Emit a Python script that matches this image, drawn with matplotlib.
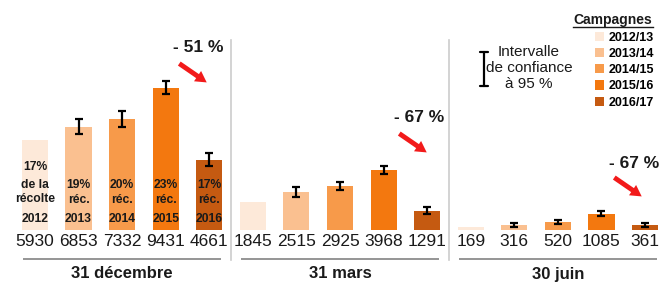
import numpy as np
import matplotlib
matplotlib.use("Agg")
from matplotlib import pyplot as plt
from matplotlib.patches import Patch

plt.rcParams['font.family'] = ['Liberation Sans', 'DejaVu Sans']

campaigns = ['2012/13', '2013/14', '2014/15', '2015/16', '2016/17']
dates = ['31 décembre', '31 mars', '30 juin']
stock_dec = [5930, 6853, 7332, 9431, 4661]
stock_mar = [1845, 2515, 2925, 3968, 1291]
stock_jun = [169, 316, 520, 1085, 361]
ci_dec = [0, 500, 530, 450, 440]
ci_mar = [0, 310, 280, 280, 230]
ci_jun = [0, 130, 130, 190, 130]
share = ['17%', '19%', '20%', '23%', '17%']
harvest = ['2012', '2013', '2014', '2015', '2016']
drops = ['- 51 %', '- 67 %', '- 67 %']
colors = ['#FDE9D9', '#FAC090', '#F79A4A', '#F3780F', '#C55A11']

W, H = 660, 284
txt = '#1a1a1a'


def fpos(x, y):
    # pixel position -> figure fraction
    return (x / W, 1 - y / H)


fig = plt.figure(figsize=(W / 100, H / 100), dpi=100)
ax = fig.add_axes([0, 0, 1, 1])
ax.set_axis_off()
ax.set_xlim(-0.803, 14.344)
ax.set_ylim(-(H - 230) / 0.0151, 230 / 0.0151)
xt = ax.get_xaxis_transform()

groups = [stock_dec, stock_mar, stock_jun]
cis = [ci_dec, ci_mar, ci_jun]
for g, (vals, ci) in enumerate(zip(groups, cis)):
    x = np.arange(5) + g * 5
    ax.bar(x, vals, width=0.6, color=colors, edgecolor='none')
    m = np.array(ci) > 0
    ax.errorbar(x[m], np.array(vals)[m], yerr=np.array(ci)[m], fmt='none',
                ecolor='black', elinewidth=1.6, capsize=2.6, capthick=1.6)
    for i, v in enumerate(vals):
        ax.text(x[i], 1 - 242 / H, str(v), transform=xt, ha='center',
                va='center', fontsize=12.5, color=txt)
    # group underline and label
    ax.plot([x[0] - 0.28, x[-1] + 0.28], [1 - 259 / H] * 2, transform=xt,
            color='#8c8c8c', lw=1.3, solid_capstyle='butt')
    ax.text(x[2], 1 - 274 / H, dates[g], transform=xt, ha='center',
            va='center', fontsize=12, fontweight='bold', color=txt)

# separators between dates
for sx in [4.5, 9.5]:
    ax.plot([sx, sx], [1 - 40 / H, 1 - 260 / H], transform=xt,
            color='#cccccc', lw=1.2)

# share of harvest inside December bars
for i in range(5):
    if i == 0:
        lines = [(share[i], 167), ('de la', 185), ('récolte', 199), (harvest[i], 219)]
    else:
        lines = [(share[i], 185), ('réc.', 200), (harvest[i], 219)]
    for s, yy in lines:
        ax.text(i, 1 - yy / H, s, transform=xt, ha='center', va='center',
                fontsize=8.7, fontweight='bold', color=txt)

# drop annotations
drop_pos = [(198, 47, 177, 62, 209, 84),
            (419, 118, 397, 132, 429, 154),
            (634, 164, 612, 176, 644, 198)]
for d, (tx, ty, ax0, ay0, ax1, ay1) in zip(drops, drop_pos):
    fig.text(*fpos(tx, ty), d, ha='center', va='center', fontsize=12.5,
             fontweight='bold', color=txt)
    ax.annotate('', xy=fpos(ax1, ay1), xytext=fpos(ax0, ay0),
                xycoords='figure fraction', textcoords='figure fraction',
                arrowprops=dict(arrowstyle='simple,head_width=0.9,head_length=0.8,tail_width=0.35',
                                color='#F21A1A', lw=0))

# confidence interval key
ax.annotate('', xy=fpos(484, 52), xytext=fpos(484, 86),
            xycoords='figure fraction', textcoords='figure fraction',
            arrowprops=dict(arrowstyle='|-|,widthA=0.3,widthB=0.3',
                            color='black', lw=1.6, shrinkA=0, shrinkB=0))
for s, yy in [('Intervalle', 52), ('de confiance', 68), ('à 95 %', 84)]:
    fig.text(*fpos(529, yy), s, ha='center', va='center', fontsize=11,
             color=txt)

# campaigns legend
fig.text(*fpos(613, 20), 'Campagnes', ha='center', va='center',
         fontsize=10, fontweight='bold', color=txt)
fig.add_artist(plt.Line2D([573 / W, 653 / W], [1 - 27 / H] * 2,
                          color=txt, lw=1))
handles = [Patch(facecolor=c, edgecolor='none') for c in colors]
fig.legend(handles, campaigns, loc='upper left',
           bbox_to_anchor=fpos(595, 32), frameon=False,
           prop=dict(size=9, weight='bold'), handlelength=0.75,
           handleheight=0.75, handletextpad=0.35, labelspacing=0.33,
           borderpad=0, borderaxespad=0)

fig.savefig('out.png', dpi=100)
